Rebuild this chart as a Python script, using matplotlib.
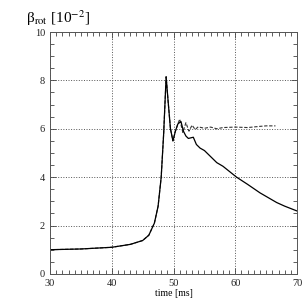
import numpy as np
import matplotlib.pyplot as plt
from matplotlib.ticker import MultipleLocator

plt.rcParams['font.family'] = ['Liberation Serif', 'DejaVu Serif']
plt.rcParams['mathtext.fontset'] = 'stix'

# solid curve: time [ms], beta_rot [1e-2]
t_solid = [30, 35, 40, 43, 45, 46, 46.9, 47.5, 48.0, 48.4, 48.8, 49.1, 49.5, 49.9,
           50.3, 50.7, 51.2, 51.6, 52.0, 52.4, 53.2, 53.7, 54.3, 55.0, 56.2, 57,
           58, 60.2, 62, 64, 66.7, 68, 70]
b_solid = [1.0, 1.03, 1.1, 1.22, 1.38, 1.6, 2.1, 2.8, 4.0, 5.8, 8.15, 7.2, 6.0, 5.5,
           5.9, 6.2, 6.3, 5.9, 5.7, 5.6, 5.65, 5.35, 5.2, 5.1, 4.8, 4.6,
           4.45, 4.0, 3.7, 3.35, 2.95, 2.8, 2.6]

# dashed curve (same start, saturates near 6)
t_dash = [30, 35, 40, 43, 45, 46, 46.9, 47.5, 48.0, 48.4, 48.8, 49.1, 49.5, 49.9,
          50.3, 50.7, 51.0, 51.5, 52.0, 52.5, 53.0, 53.5, 54.0, 55.0, 56.0, 57.0, 58.0,
          60.0, 62.0, 64.0, 65.0, 66.5]
b_dash = [1.0, 1.03, 1.1, 1.22, 1.38, 1.6, 2.1, 2.8, 4.0, 5.8, 8.15, 7.2, 6.0, 5.5,
          5.9, 6.2, 6.4, 5.85, 6.25, 5.9, 6.15, 5.97, 6.08, 6.02, 6.07, 6.0, 6.05,
          6.07, 6.05, 6.1, 6.12, 6.12]

fig = plt.figure(figsize=(3.05, 3.05), dpi=100)
ax = fig.add_axes([0.164, 0.102, 0.81, 0.793])

ax.plot(t_dash, b_dash, color='#333333', lw=0.8, ls=(0, (3, 1.5)))
ax.plot(t_solid, b_solid, color='black', lw=0.9)

ax.set_xlim(30, 70)
ax.set_ylim(0, 10)
ax.xaxis.set_major_locator(MultipleLocator(10))
ax.xaxis.set_minor_locator(MultipleLocator(1))
ax.yaxis.set_major_locator(MultipleLocator(2))
ax.yaxis.set_minor_locator(MultipleLocator(0.5))
ax.tick_params(which='both', direction='in', top=True, right=True, labelsize=7.5,
               width=0.6, color='#444444', labelcolor='#222222')
ax.tick_params(which='major', length=4)
ax.tick_params(which='minor', length=3)
ax.grid(True, which='major', color='#555555', ls=':', lw=0.7)
for s in ax.spines.values():
    s.set_linewidth(0.7)
    s.set_color('#555555')

ax.set_xlabel('time [ms]', fontsize=7, labelpad=1)
fig.text(0.085, 0.925, 'β$_{\\rm rot}$ [10$^{-2}$]', fontsize=11)

fig.savefig('out.png', dpi=100)
